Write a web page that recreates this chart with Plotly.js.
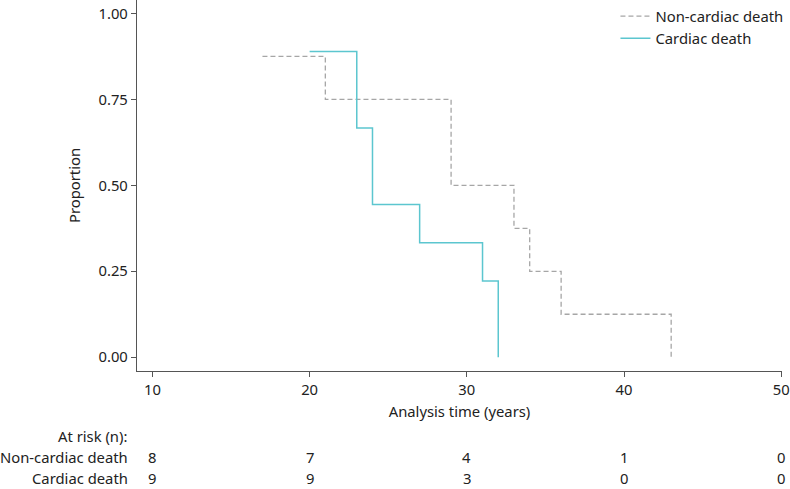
<!DOCTYPE html>
<html>
<head>
<meta charset="utf-8">
<script src="https://cdn.plot.ly/plotly-3.0.1.min.js"></script>
<style>html,body{margin:0;padding:0;background:#fff;}#chart{width:790px;height:489px;}</style>
</head>
<body>
<div id="chart"></div>
<script>
// Kaplan-Meier step data
const nonCardiacTime = [17, 21, 29, 33, 34, 36, 43];
const nonCardiacSurv = [0.875, 0.75, 0.5, 0.375, 0.25, 0.125, 0];
const cardiacTime = [20, 23, 24, 27, 31, 32];
const cardiacSurv = [0.889, 0.667, 0.444, 0.333, 0.222, 0];

// Numbers at risk
const riskTimes = [10, 20, 30, 40, 50];
const riskNonCardiac = [8, 7, 4, 1, 0];
const riskCardiac = [9, 9, 3, 0, 0];
const riskLabels = ["Non-cardiac death", "Cardiac death"];

const FONT = "Source Sans Pro, Noto Sans, sans-serif";
const FS = 14.8;
const txtColor = "#222";

const traces = [
  {x: nonCardiacTime, y: nonCardiacSurv, mode: "lines", name: "Non-cardiac death",
   line: {shape: "hv", color: "#a6a6a6", dash: "5px,3px", width: 1.3}},
  {x: cardiacTime, y: cardiacSurv, mode: "lines", name: "Cardiac death",
   line: {shape: "hv", color: "#5cc6cf", width: 1.5}}
];

const rowY = [-0.232, -0.288];
const annotations = [];
annotations.push({xref: "paper", yref: "paper", x: -0.013, y: -0.175, text: "At risk (n):",
  showarrow: false, xanchor: "right", yanchor: "middle", font: {size: FS, color: txtColor, family: FONT}});
const rows = [riskNonCardiac, riskCardiac];
rows.forEach((row, r) => {
  annotations.push({xref: "paper", yref: "paper", x: -0.011, y: rowY[r], text: riskLabels[r],
    showarrow: false, xanchor: "right", yanchor: "middle", font: {size: FS, color: txtColor, family: FONT}});
  row.forEach((v, i) => {
    annotations.push({xref: "x", yref: "paper", x: riskTimes[i], y: rowY[r], text: String(v),
      showarrow: false, xanchor: "center", yanchor: "middle", font: {size: FS, color: txtColor, family: FONT}});
  });
});

const layout = {
  width: 790, height: 489,
  margin: {l: 137, r: 8, t: 0, b: 118},
  paper_bgcolor: "#fff", plot_bgcolor: "#fff",
  font: {family: FONT, size: FS, color: txtColor},
  showlegend: true,
  legend: {x: 1.01, y: 1.0, xanchor: "right", yanchor: "top", bgcolor: "rgba(0,0,0,0)",
    font: {size: FS, family: FONT, color: txtColor}, tracegroupgap: 0, itemwidth: 30},
  xaxis: {
    range: [9.02, 50.05], tickvals: riskTimes, ticktext: riskTimes.map(String),
    showgrid: false, zeroline: false, showline: true, linecolor: "#555", linewidth: 1.2,
    ticks: "outside", ticklen: 5, tickcolor: "#555",
    title: {text: "Analysis time (years)", font: {size: FS, family: FONT, color: txtColor}, standoff: 8}
  },
  yaxis: {
    range: [-0.04, 1.039], tickvals: [0, 0.25, 0.5, 0.75, 1], ticktext: ["0.00", "0.25", "0.50", "0.75", "1.00"],
    showgrid: false, zeroline: false, showline: true, linecolor: "#555", linewidth: 1.2,
    ticks: "outside", ticklen: 5, tickcolor: "#555",
    title: {text: "Proportion", font: {size: FS, family: FONT, color: txtColor}, standoff: 14}
  },
  annotations: annotations
};

Plotly.newPlot("chart", traces, layout, {displayModeBar: false, staticPlot: true});
</script>
</body>
</html>
